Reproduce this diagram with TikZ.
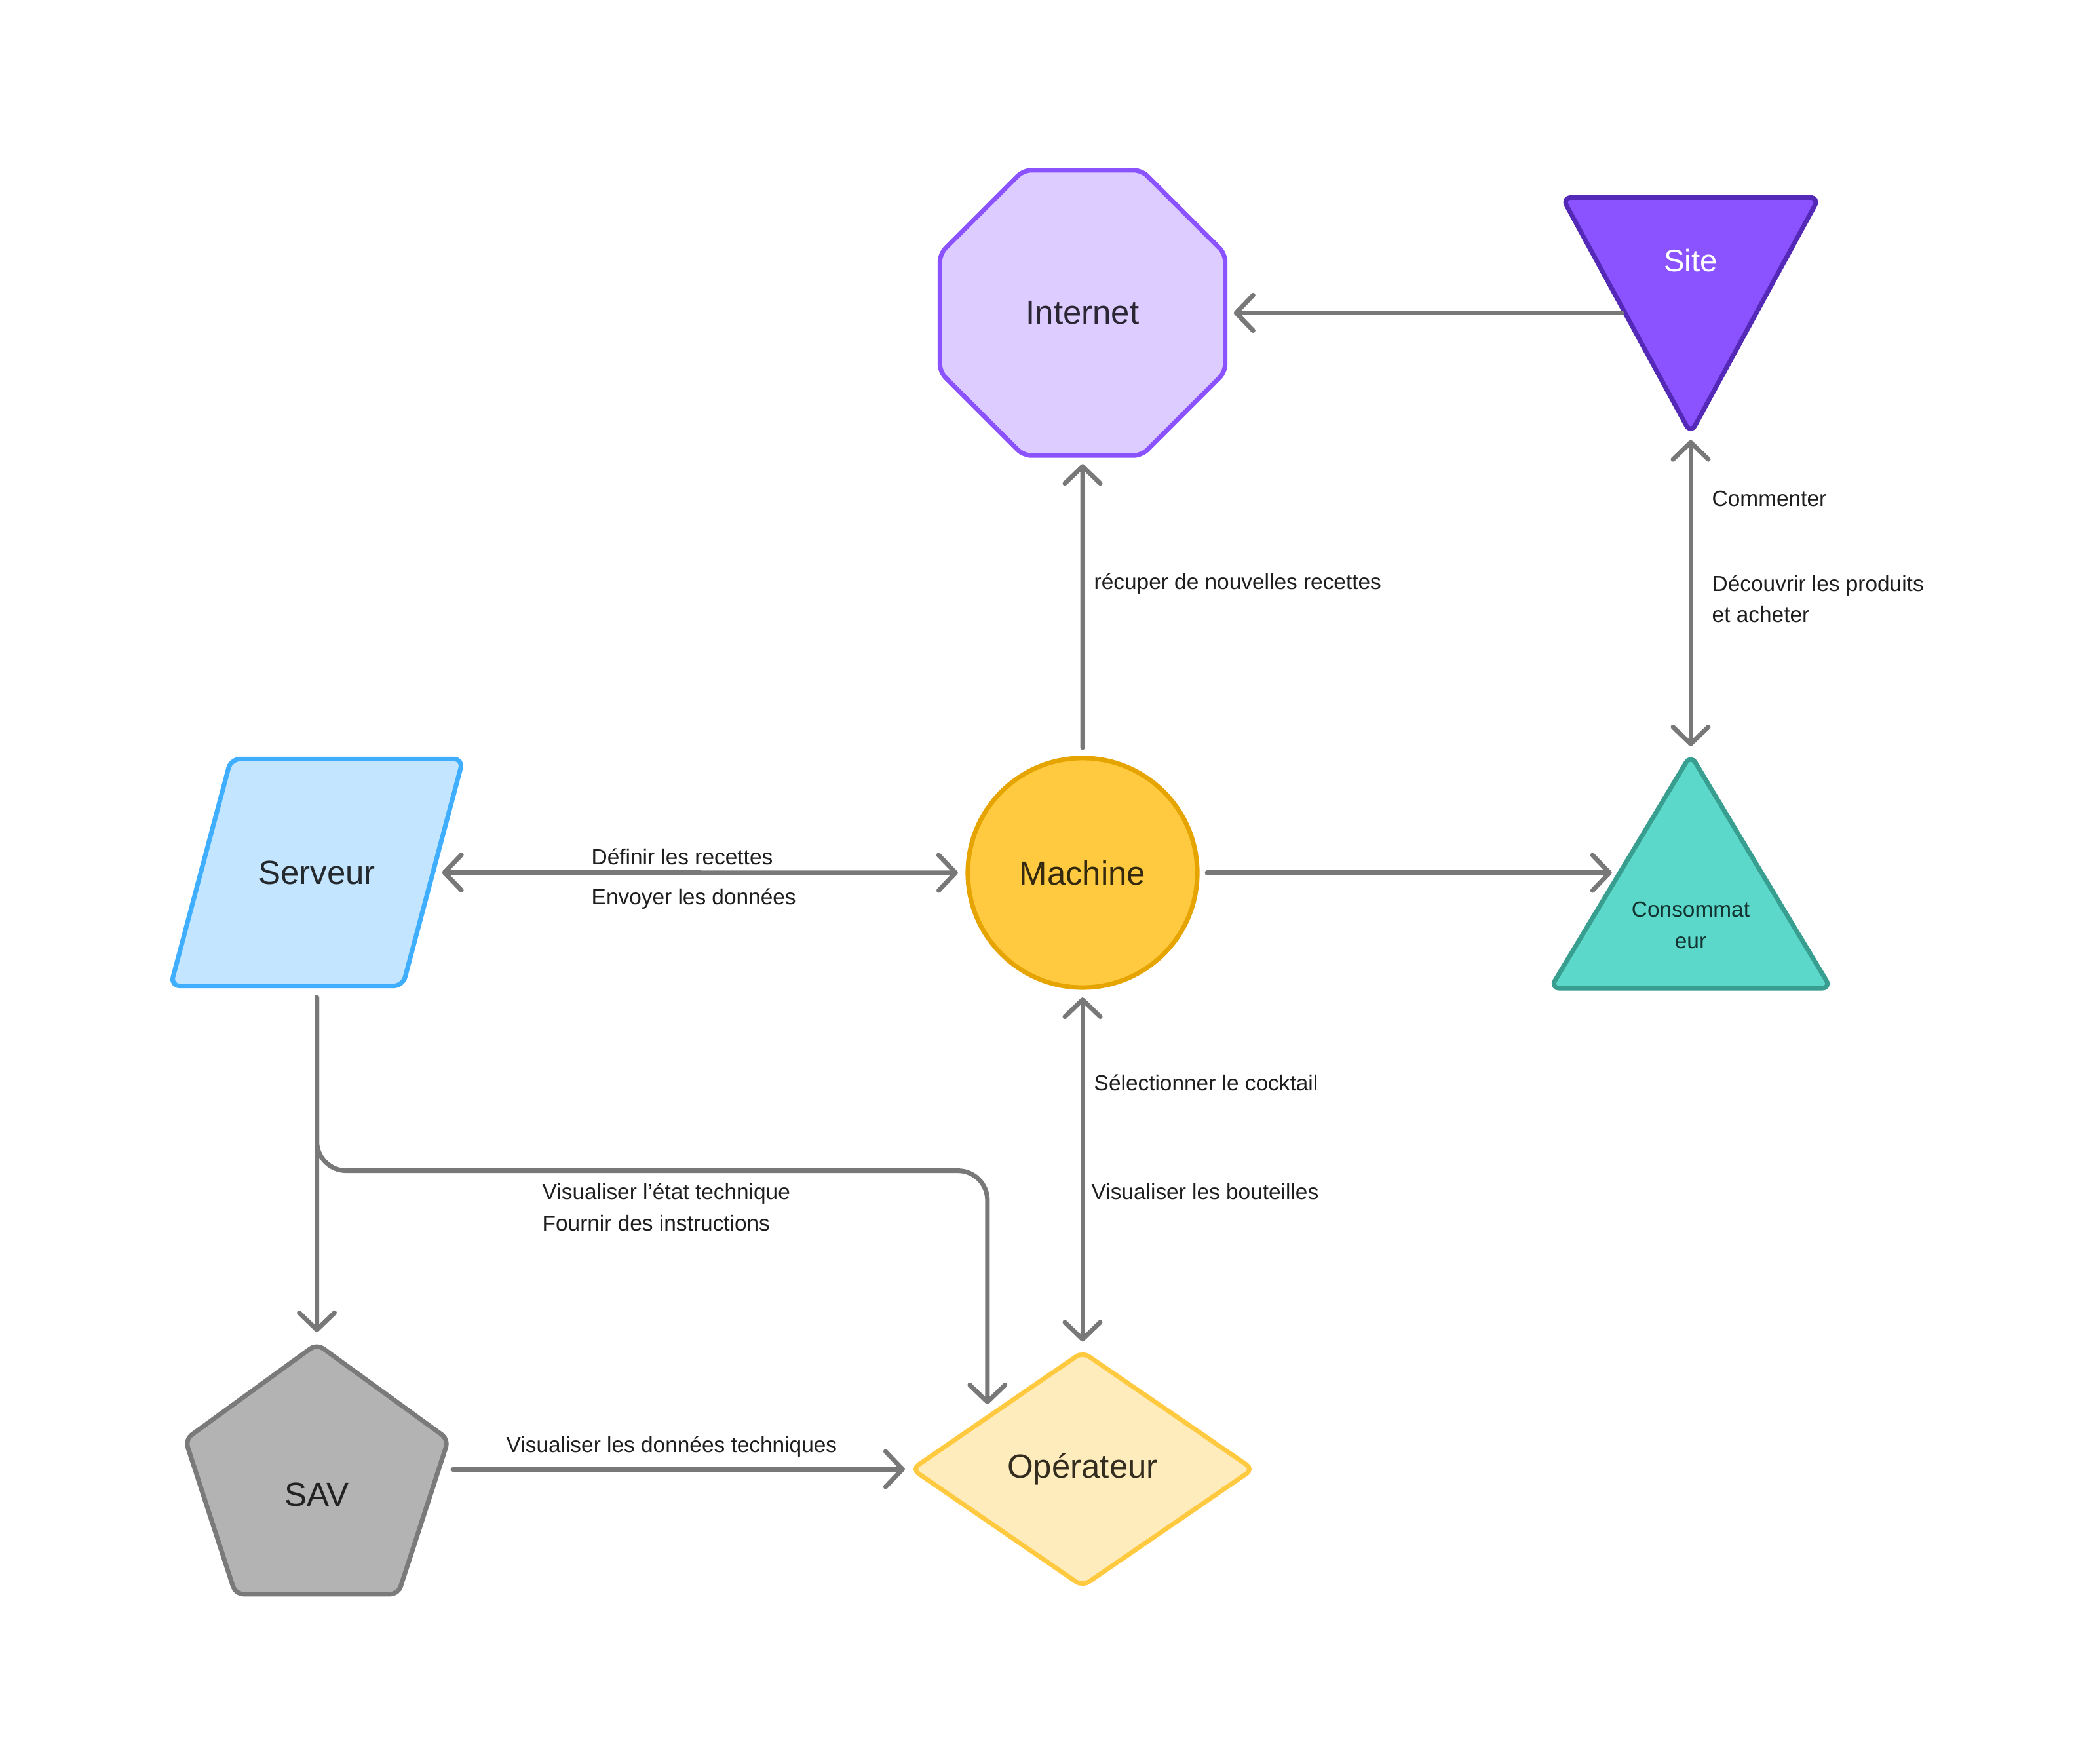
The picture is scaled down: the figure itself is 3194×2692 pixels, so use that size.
\documentclass[tikz,border=0pt]{standalone}
\usepackage{fontspec}
\setmainfont{Liberation Sans}
\usetikzlibrary{shapes.geometric,arrows.meta,calc}

\definecolor{linegray}{HTML}{787878}
\definecolor{intfill}{HTML}{DCCCFF}
\definecolor{intborder}{HTML}{8B52FF}
\definecolor{inttext}{HTML}{2B2633}
\definecolor{sitefill}{HTML}{8B52FF}
\definecolor{siteborder}{HTML}{5529B8}
\definecolor{servfill}{HTML}{C3E5FF}
\definecolor{servborder}{HTML}{40AEFF}
\definecolor{servtext}{HTML}{24292E}
\definecolor{machfill}{HTML}{FFC940}
\definecolor{machborder}{HTML}{E6A400}
\definecolor{machtext}{HTML}{33290F}
\definecolor{consofill}{HTML}{5CD8CA}
\definecolor{consoborder}{HTML}{379E90}
\definecolor{consotext}{HTML}{123330}
\definecolor{savfill}{HTML}{B3B3B3}
\definecolor{savborder}{HTML}{7A7A7A}
\definecolor{savtext}{HTML}{222222}
\definecolor{opfill}{HTML}{FFECBD}
\definecolor{opborder}{HTML}{FFC940}
\definecolor{optext}{HTML}{332D20}
\definecolor{lbltext}{HTML}{1E1E1E}

\tikzset{barb/.tip={Straight Barb[length=0.26cm,width=0.54cm,round]}}

\begin{document}
\begin{tikzpicture}[x=0.01cm,y=-0.01cm,
  shapebase/.style={line width=0.07cm, inner sep=0pt, outer sep=0pt,
    rounded corners=0.12cm, font=\fontsize{14.5pt}{17pt}\selectfont},
  outline/.style={line width=0.07cm, rounded corners=0.14cm},
  holder/.style={draw=none, inner sep=0pt, outer sep=0pt},
  bigtext/.style={inner sep=0pt, font=\fontsize{14.5pt}{17pt}\selectfont},
  lbl/.style={anchor=base west, inner sep=0pt, align=left, text=lbltext,
    font=\fontsize{9.5pt}{13.5pt}\selectfont},
  conn/.style={draw=linegray, line width=0.07cm, line cap=round, line join=round}]

\fill[white] (0,0) rectangle (3194,2692);
\useasboundingbox (0,0) rectangle (3194,2692);

% ---------- shapes ----------
\node[shapebase, regular polygon, regular polygon sides=8, minimum size=4.71cm,
  draw=intborder, fill=intfill, text=inttext] (internet) at (1652,477.5) {Internet};

\node[holder, minimum width=3.92cm, minimum height=3.6cm] (site) at (2580,481.5) {};
\draw[outline, draw=siteborder, fill=sitefill]
  (site.north west) -- (site.north east) -- (site.south) -- cycle;
\node[inner sep=0pt, text=white, font=\fontsize{13.5pt}{16pt}\selectfont] (sitetext)
  at ($(site.north)+(0,96.5)$) {Site};

\node[holder, minimum width=4.46cm, minimum height=3.46cm] (serveur) at (483.5,1331.5) {};
\draw[outline, draw=servborder, fill=servfill]
  (serveur.south west) -- ($(serveur.south east)+(-92,0)$) -- (serveur.north east)
  -- ($(serveur.north west)+(92,0)$) -- cycle;
\node[bigtext, text=servtext] (serveurtext) at (serveur.center) {Serveur};

\node[shapebase, circle, minimum size=3.5cm, draw=machborder, fill=machfill,
  text=machtext] (machine) at (1652,1332) {Machine};

\node[holder, minimum width=4.28cm, minimum height=3.56cm] (conso) at (2580,1330) {};
\draw[outline, draw=consoborder, fill=consofill]
  (conso.south west) -- (conso.south east) -- (conso.north) -- cycle;
\node[anchor=base, inner sep=0pt, align=center, text=consotext,
  font=\fontsize{9.5pt}{13.6pt}\selectfont] (consotext) at (2580,1447) {Consommat\\eur};

\node[shapebase, regular polygon, regular polygon sides=5, minimum size=4.22cm,
  draw=savborder, fill=savfill, text=savtext] (sav) at (483.5,2262)
  {\raisebox{-0.36cm}[0pt][0pt]{SAV}};

\node[shapebase, diamond, minimum width=5.2cm, minimum height=3.57cm,
  draw=opborder, fill=opfill, text=optext] (operateur) at (1652,2242) {Opérateur};

% attachment points on the triangle borders
\coordinate (siteout) at ($(site.north west)!0.4889!(site.south)$);
\coordinate (consoin) at ($(conso.north)!0.5056!(conso.south west)$);

% ---------- connectors ----------
\draw[conn, -barb, shorten <=0.05cm, shorten >=0.13cm]
  (internet.east -| siteout) -- (internet.east);
\draw[conn, -barb, shorten <=0.16cm, shorten >=0.13cm] (machine.north) -- (internet.south);
\draw[conn, barb-barb, shorten <=0.10cm, shorten >=0.13cm] (site.south) -- (conso.north);
\draw[conn, barb-barb, shorten <=0.14cm, shorten >=0.15cm]
  ($(serveur.east)+(-46,0)$) -- (machine.west);
\draw[conn, -barb, shorten <=0.15cm, shorten >=0.12cm]
  (machine.east) -- (machine.east -| consoin);
\draw[conn, barb-barb, shorten <=0.15cm, shorten >=0.16cm] (machine.south) -- (operateur.north);
\draw[conn, -barb, shorten <=0.175cm, shorten >=0.18cm] (serveur.south) -- (sav.north);
\draw[conn, -barb, rounded corners=0.45cm, shorten <=0.175cm, shorten >=0.2cm]
  (serveur.south) -- ++(0,282)
  -| ($(operateur.west)!0.442!(operateur.north)$);
\draw[conn, -barb, shorten <=0.28cm, shorten >=0.11cm]
  (sav.east |- operateur.west) -- (operateur.west);

% ---------- labels ----------
\node[lbl] (l1) at (1669,900) {récuper de nouvelles recettes};
\node[lbl] (l2) at (2612,773) {Commenter};
\node[lbl] (l3) at (2612,950) {Découvrir les produits\\et acheter};
\node[lbl] (l4) at (902,1319) {Définir les recettes};
\node[lbl] (l5) at (902,1380) {Envoyer les données};
\node[lbl] (l6) at (1669,1664) {Sélectionner le cocktail};
\node[lbl] (l7) at (1665,1830) {Visualiser les bouteilles};
\node[lbl] (l8) at (827,1878) {Visualiser l’état technique\\Fournir des instructions};
\node[lbl] (l9) at (772,2216) {Visualiser les données techniques};
\end{tikzpicture}
\end{document}
